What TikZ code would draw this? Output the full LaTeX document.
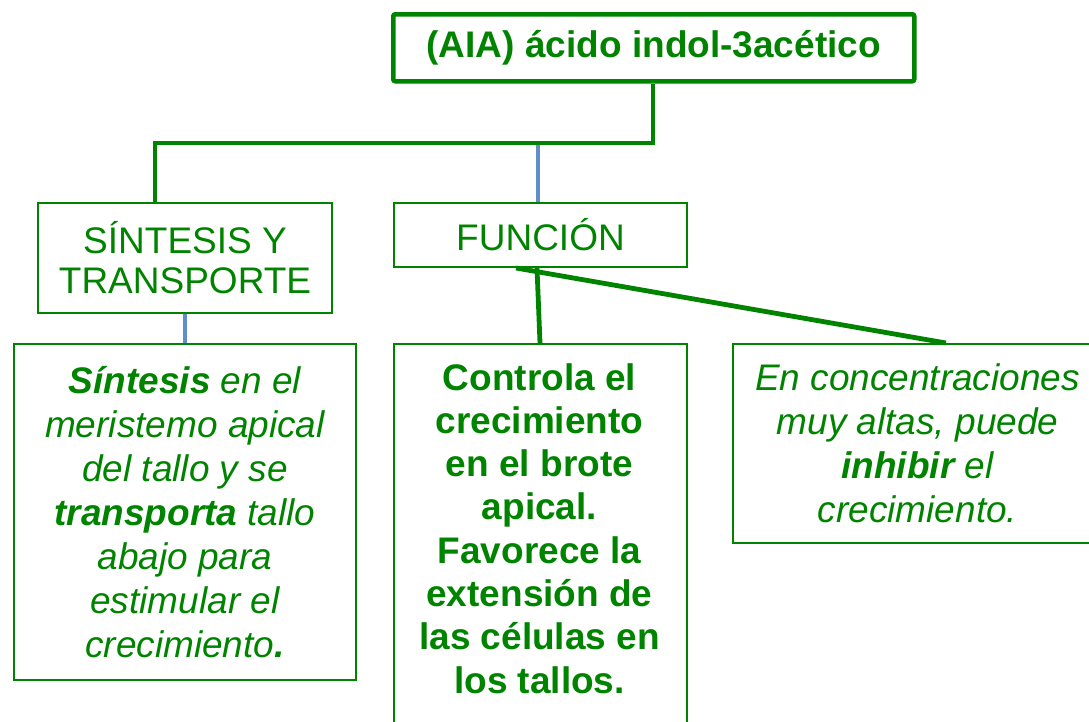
\documentclass[tikz,border=0pt]{standalone}
\usepackage{fontspec}
\setmainfont{Liberation Sans}
\definecolor{gr}{RGB}{0,132,0}
\definecolor{bl}{RGB}{95,143,200}
\begin{document}
\begin{tikzpicture}[x=1pt,y=-1pt,
  box/.style={draw=gr, line width=2pt, inner sep=0pt, anchor=north west, text=gr,
              align=center, font=\fontsize{37}{44}\selectfont},
  txt/.style={inner sep=0pt, text=gr, align=center, font=\fontsize{37}{44}\selectfont},
  gline/.style={draw=gr, line width=4.8pt},
  bline/.style={draw=bl, line width=4.8pt}]
\useasboundingbox (0,0) rectangle (1089,721);

% boxes
\node[box, line width=4.5pt, rounded corners=2pt, minimum width=521pt, minimum height=67pt,
      font=\bfseries\fontsize{37}{44}\selectfont] (title) at (391,12) {(AIA) ácido indol-3acético};
\node[box, minimum width=294pt, minimum height=110pt, font=\fontsize{37}{40}\selectfont]
      (sint) at (37,202) {SÍNTESIS Y\\TRANSPORTE};
\node[box, minimum width=293pt, minimum height=64pt] (func) at (393,202) {FUNCIÓN};
\node[box, minimum width=342pt, minimum height=336pt, font=\itshape\fontsize{37}{44}\selectfont]
      (left) at (13,343) {\textbf{Síntesis} en el\\meristemo apical\\del tallo y se\\\textbf{transporta} tallo\\abajo para\\estimular el\\crecimiento\textbf{.}};
\node[box, minimum width=293pt, minimum height=400pt] (mid) at (393,343) {};
\node[txt, anchor=north, font=\bfseries\fontsize{37}{43.3}\selectfont] (midtext) at (539.5,363)
      {Controla el\\crecimiento\\en el brote\\apical.\\Favorece la\\extensión de\\las células en\\los tallos.};
\node[box, minimum width=369pt, minimum height=199pt, font=\itshape\fontsize{37}{44}\selectfont]
      (right) at (732,343) {En concentraciones\\muy altas, puede\\\textbf{inhibir} el\\crecimiento.};

% junction coordinates
\coordinate (j1) at (155,143);
\coordinate (j2) at (653,143);
\coordinate (j3) at (538,143);

% connectors
\draw[bline] (j3) -- (func.north -| j3);
\draw[gline] (title.south -| j2) -- (j2) -- (j1) -- (sint.north -| j1);
\draw[bline] (sint.south) -- (sint.south |- left.north);
\draw[gline] (func.south -| 537,0) -- (mid.north -| 540,0);
\draw[gline] (func.south -| 516,0) -- (right.north -| 946,0);
\end{tikzpicture}
\end{document}
